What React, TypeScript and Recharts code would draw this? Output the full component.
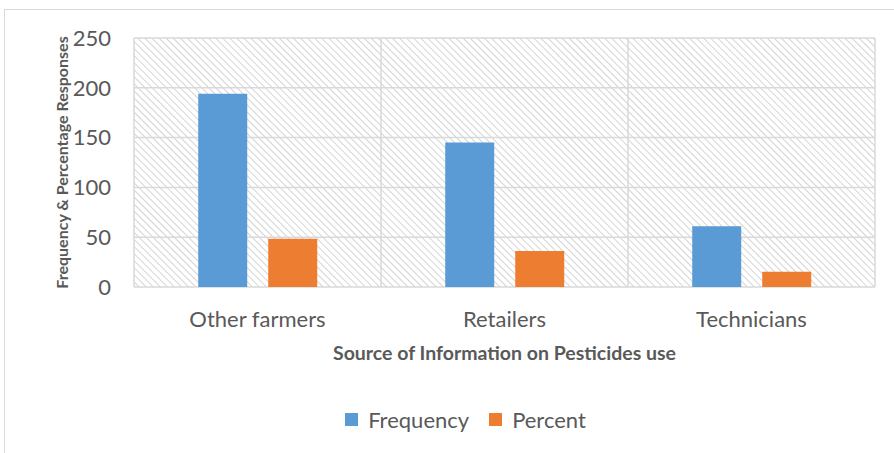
import { BarChart, Bar, XAxis, YAxis, CartesianGrid, Legend, Label } from "recharts";

const categories = ["Other farmers", "Retailers", "Technicians"];
const frequency = [194, 145, 61];
const percent = [48.5, 36.25, 15.25];
const yTicks = [0, 50, 100, 150, 200, 250];

const COLORS = { frequency: "#5B9BD5", percent: "#ED7D31" };
const FONT = "Lato, 'Open Sans', sans-serif";
const TEXT = "#595959";

const data = categories.map((name, i) => ({
  name,
  Frequency: frequency[i],
  Percent: percent[i],
}));

function LegendContent(props: any) {
  const items = props.payload || [];
  return (
    <div style={{ display: "flex", justifyContent: "center", alignItems: "center", height: 28, fontFamily: FONT, fontSize: 22, color: TEXT }}>
      {items.map((p: any, i: number) => (
        <div key={i} style={{ display: "flex", alignItems: "center", marginRight: i === items.length - 1 ? 0 : 20 }}>
          <span style={{ width: 13, height: 13, background: p.color, display: "inline-block", marginRight: 10 }} />
          <span>{p.value}</span>
        </div>
      ))}
    </div>
  );
}

export default function App() {
  return (
    <div style={{ position: "absolute", left: 0, top: 0, width: 894, height: 453, background: "#fff", overflow: "hidden" }}>
      <div style={{ position: "absolute", left: 4, top: 9, width: 910, height: 460, border: "1px solid #d9d9d9" }} />
      <div style={{ position: "absolute", left: 0, top: 0 }}>
        <BarChart
          width={894}
          height={453}
          data={data}
          margin={{ top: 38, right: 19, left: 56, bottom: 58 }}
          barCategoryGap="26%"
          barGap={21}
        >
          <defs>
            <pattern id="hatch" patternUnits="userSpaceOnUse" width="5" height="5" patternTransform="rotate(-45)">
              <rect width="5" height="5" fill="#ffffff" />
              <line x1="0" y1="0" x2="0" y2="5" stroke="#d4d4d4" strokeWidth="2" />
            </pattern>
          </defs>
          <CartesianGrid
            stroke="#d9d9d9"
            strokeWidth={1.5}
            fill="url(#hatch)"
            fillOpacity={1}
            verticalCoordinatesGenerator={(p: any) => {
              const o = p.offset;
              return [0, 1, 2, 3].map((i) => o.left + (i * o.width) / 3);
            }}
          />
          <XAxis
            dataKey="name"
            tickLine={false}
            axisLine={false}
            height={80}
            tick={{ fontSize: 22, fill: TEXT, fontFamily: FONT }}
            dy={16}
          >
            <Label
              value="Source of Information on Pesticides use"
              position="insideBottom"
              offset={7}
              style={{ fontSize: 19.5, fontWeight: 700, fill: TEXT, fontFamily: FONT }}
            />
          </XAxis>
          <YAxis
            domain={[0, 250]}
            ticks={yTicks}
            tickLine={false}
            axisLine={false}
            width={78}
            tickMargin={17}
            tick={{ fontSize: 22, fill: TEXT, fontFamily: FONT }}
          >
            <Label
              value="Frequency & Percentage Responses"
              angle={-90}
              position="insideLeft"
              offset={6}
              style={{ textAnchor: "middle", fontSize: 16, fontWeight: 700, fill: TEXT, fontFamily: FONT }}
            />
          </YAxis>
          <Legend
            verticalAlign="bottom"
            content={<LegendContent />}
            wrapperStyle={{ bottom: 20 }}
          />
          <Bar dataKey="Frequency" fill={COLORS.frequency} isAnimationActive={false} />
          <Bar dataKey="Percent" fill={COLORS.percent} isAnimationActive={false} />
        </BarChart>
      </div>
    </div>
  );
}
